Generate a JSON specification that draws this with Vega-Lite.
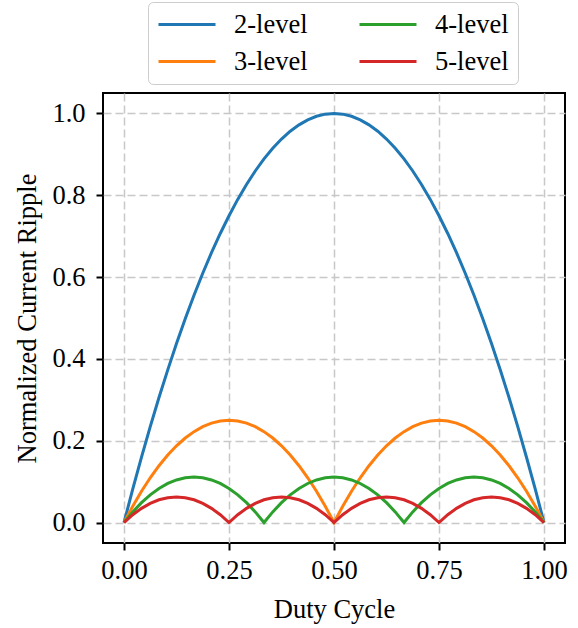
{
  "$schema": "https://vega.github.io/schema/vega-lite/v6.json",
  "autosize": {"type": "none"},
  "width": 462,
  "height": 450,
  "padding": {"left": 103, "top": 93, "right": 13, "bottom": 85},
  "background": "white",
  "config": {
    "view": {"stroke": "black", "strokeWidth": 2},
    "font": "Liberation Serif",
    "legend": {"labelFont": "Liberation Serif", "labelFontSize": 26.5, "labelColor": "black"},
    "axis": {
      "domain": false,
      "ticks": true,
      "tickSize": 7,
      "tickWidth": 2,
      "tickColor": "black",
      "labelFont": "Liberation Serif",
      "labelFontSize": 26.5,
      "labelColor": "black",
      "labelPadding": 6,
      "grid": true,
      "gridDash": [8, 4],
      "gridColor": "#c8c8c8",
      "gridWidth": 1.5,
      "titleFont": "Liberation Serif",
      "titleFontSize": 26.5,
      "titleFontWeight": "normal",
      "titleColor": "black"
    }
  },
  "data": {
    "values": [
      {"D": 0, "2-level": 0, "3-level": 0, "4-level": 0, "5-level": 0},
      {"D": 0.0208, "2-level": 0.0816, "3-level": 0.0399, "4-level": 0.026, "5-level": 0.0191},
      {"D": 0.0417, "2-level": 0.1597, "3-level": 0.0764, "4-level": 0.0486, "5-level": 0.0347},
      {"D": 0.0625, "2-level": 0.2344, "3-level": 0.1094, "4-level": 0.0677, "5-level": 0.0469},
      {"D": 0.0833, "2-level": 0.3056, "3-level": 0.1389, "4-level": 0.0833, "5-level": 0.0556},
      {"D": 0.1042, "2-level": 0.3733, "3-level": 0.1649, "4-level": 0.0955, "5-level": 0.0608},
      {"D": 0.125, "2-level": 0.4375, "3-level": 0.1875, "4-level": 0.1042, "5-level": 0.0625},
      {"D": 0.1458, "2-level": 0.4983, "3-level": 0.2066, "4-level": 0.1094, "5-level": 0.0608},
      {"D": 0.1667, "2-level": 0.5556, "3-level": 0.2222, "4-level": 0.1111, "5-level": 0.0556},
      {"D": 0.1875, "2-level": 0.6094, "3-level": 0.2344, "4-level": 0.1094, "5-level": 0.0469},
      {"D": 0.2083, "2-level": 0.6597, "3-level": 0.2431, "4-level": 0.1042, "5-level": 0.0347},
      {"D": 0.2292, "2-level": 0.7066, "3-level": 0.2483, "4-level": 0.0955, "5-level": 0.0191},
      {"D": 0.25, "2-level": 0.75, "3-level": 0.25, "4-level": 0.0833, "5-level": 0},
      {"D": 0.2708, "2-level": 0.7899, "3-level": 0.2483, "4-level": 0.0677, "5-level": 0.0191},
      {"D": 0.2917, "2-level": 0.8264, "3-level": 0.2431, "4-level": 0.0486, "5-level": 0.0347},
      {"D": 0.3125, "2-level": 0.8594, "3-level": 0.2344, "4-level": 0.026, "5-level": 0.0469},
      {"D": 0.3333, "2-level": 0.8889, "3-level": 0.2222, "4-level": 0, "5-level": 0.0556},
      {"D": 0.3542, "2-level": 0.9149, "3-level": 0.2066, "4-level": 0.026, "5-level": 0.0608},
      {"D": 0.375, "2-level": 0.9375, "3-level": 0.1875, "4-level": 0.0486, "5-level": 0.0625},
      {"D": 0.3958, "2-level": 0.9566, "3-level": 0.1649, "4-level": 0.0677, "5-level": 0.0608},
      {"D": 0.4167, "2-level": 0.9722, "3-level": 0.1389, "4-level": 0.0833, "5-level": 0.0556},
      {"D": 0.4375, "2-level": 0.9844, "3-level": 0.1094, "4-level": 0.0955, "5-level": 0.0469},
      {"D": 0.4583, "2-level": 0.9931, "3-level": 0.0764, "4-level": 0.1042, "5-level": 0.0347},
      {"D": 0.4792, "2-level": 0.9983, "3-level": 0.0399, "4-level": 0.1094, "5-level": 0.0191},
      {"D": 0.5, "2-level": 1, "3-level": 0, "4-level": 0.1111, "5-level": 0},
      {"D": 0.5208, "2-level": 0.9983, "3-level": 0.0399, "4-level": 0.1094, "5-level": 0.0191},
      {"D": 0.5417, "2-level": 0.9931, "3-level": 0.0764, "4-level": 0.1042, "5-level": 0.0347},
      {"D": 0.5625, "2-level": 0.9844, "3-level": 0.1094, "4-level": 0.0955, "5-level": 0.0469},
      {"D": 0.5833, "2-level": 0.9722, "3-level": 0.1389, "4-level": 0.0833, "5-level": 0.0556},
      {"D": 0.6042, "2-level": 0.9566, "3-level": 0.1649, "4-level": 0.0677, "5-level": 0.0608},
      {"D": 0.625, "2-level": 0.9375, "3-level": 0.1875, "4-level": 0.0486, "5-level": 0.0625},
      {"D": 0.6458, "2-level": 0.9149, "3-level": 0.2066, "4-level": 0.026, "5-level": 0.0608},
      {"D": 0.6667, "2-level": 0.8889, "3-level": 0.2222, "4-level": 0, "5-level": 0.0556},
      {"D": 0.6875, "2-level": 0.8594, "3-level": 0.2344, "4-level": 0.026, "5-level": 0.0469},
      {"D": 0.7083, "2-level": 0.8264, "3-level": 0.2431, "4-level": 0.0486, "5-level": 0.0347},
      {"D": 0.7292, "2-level": 0.7899, "3-level": 0.2483, "4-level": 0.0677, "5-level": 0.0191},
      {"D": 0.75, "2-level": 0.75, "3-level": 0.25, "4-level": 0.0833, "5-level": 0},
      {"D": 0.7708, "2-level": 0.7066, "3-level": 0.2483, "4-level": 0.0955, "5-level": 0.0191},
      {"D": 0.7917, "2-level": 0.6597, "3-level": 0.2431, "4-level": 0.1042, "5-level": 0.0347},
      {"D": 0.8125, "2-level": 0.6094, "3-level": 0.2344, "4-level": 0.1094, "5-level": 0.0469},
      {"D": 0.8333, "2-level": 0.5556, "3-level": 0.2222, "4-level": 0.1111, "5-level": 0.0556},
      {"D": 0.8542, "2-level": 0.4983, "3-level": 0.2066, "4-level": 0.1094, "5-level": 0.0608},
      {"D": 0.875, "2-level": 0.4375, "3-level": 0.1875, "4-level": 0.1042, "5-level": 0.0625},
      {"D": 0.8958, "2-level": 0.3733, "3-level": 0.1649, "4-level": 0.0955, "5-level": 0.0608},
      {"D": 0.9167, "2-level": 0.3056, "3-level": 0.1389, "4-level": 0.0833, "5-level": 0.0556},
      {"D": 0.9375, "2-level": 0.2344, "3-level": 0.1094, "4-level": 0.0677, "5-level": 0.0469},
      {"D": 0.9583, "2-level": 0.1597, "3-level": 0.0764, "4-level": 0.0486, "5-level": 0.0347},
      {"D": 0.9792, "2-level": 0.0816, "3-level": 0.0399, "4-level": 0.026, "5-level": 0.0191},
      {"D": 1, "2-level": 0, "3-level": 0, "4-level": 0, "5-level": 0}
    ]
  },
  "transform": [
    {"fold": ["2-level", "3-level", "4-level", "5-level"], "as": ["series", "R"]}
  ],
  "mark": {"type": "line", "strokeWidth": 3, "clip": false},
  "encoding": {
    "x": {
      "field": "D",
      "type": "quantitative",
      "scale": {"domain": [-0.05, 1.05], "nice": false, "zero": false},
      "axis": {"values": [0, 0.25, 0.5, 0.75, 1], "format": ".2f", "title": "Duty Cycle", "titlePadding": 13, "labelPadding": 7}
    },
    "y": {
      "field": "R",
      "type": "quantitative",
      "scale": {"domain": [-0.05, 1.05], "nice": false, "zero": false},
      "axis": {"values": [0, 0.2, 0.4, 0.6, 0.8, 1], "format": ".1f", "title": "Normalized Current Ripple", "titlePadding": 10, "labelPadding": 11}
    },
    "color": {
      "field": "series",
      "type": "nominal",
      "scale": {
        "domain": ["2-level", "3-level", "4-level", "5-level"],
        "range": ["#1f77b4", "#ff7f0e", "#2ca02c", "#d62728"]
      },
      "legend": {
        "title": null,
        "orient": "none",
        "legendX": 45,
        "legendY": -91,
        "columns": 2,
        "symbolType": "M-1,0H3.75",
        "symbolSize": 576,
        "symbolStrokeWidth": 3,
        "symbolFillColor": "transparent",
        "labelFont": "Liberation Serif",
        "labelFontSize": 26.5,
        "labelColor": "black",
        "labelOffset": 50,
        "columnPadding": 45,
        "rowPadding": 10,
        "padding": 9,
        "strokeColor": "#cccccc",
        "fillColor": "white",
        "cornerRadius": 5
      }
    }
  }
}
